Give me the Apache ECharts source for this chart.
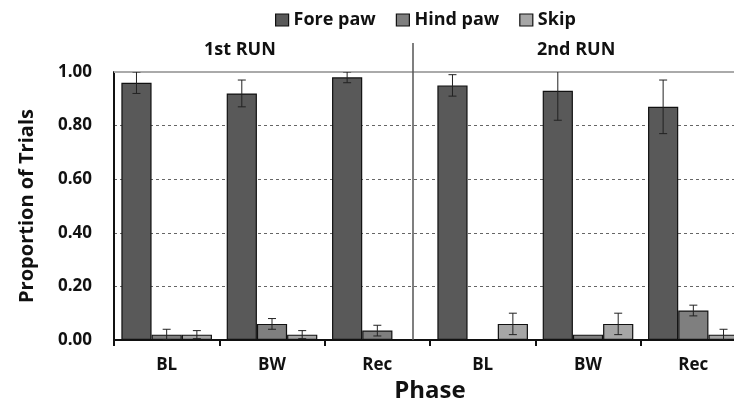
<!DOCTYPE html>
<html>
<head>
<meta charset="utf-8">
<script src="https://cdn.jsdelivr.net/npm/echarts@6/dist/echarts.min.js"></script>
<style>html,body{margin:0;padding:0;background:#fff}#c{width:734px;height:404px}</style>
</head>
<body>
<div id="c"></div>
<script>
const categories = ['BL', 'BW', 'Rec', 'BL', 'BW', 'Rec'];
const seriesNames = ['Fore paw', 'Hind paw', 'Skip'];
const forePaw = [0.96, 0.92, 0.98, 0.95, 0.93, 0.87];
const forePawErr = [0.04, 0.05, 0.02, 0.04, 0.11, 0.10];
const hindPaw = [0.02, 0.06, 0.035, 0, 0.02, 0.11];
const hindPawErr = [0.02, 0.02, 0.02, 0, 0, 0.02];
const skip = [0.02, 0.02, 0, 0.06, 0.06, 0.02];
const skipErr = [0.015, 0.015, 0, 0.04, 0.04, 0.02];
const yTicks = [0, 0.2, 0.4, 0.6, 0.8, 1.0];
const runLabels = ['1st RUN', '2nd RUN'];

const colors = ['#595959', '#7f7f7f', '#a6a6a6'];
const FONT = '"Open Sans", "DejaVu Sans", sans-serif';
const chart = echarts.init(document.getElementById('c'), null, {renderer: 'canvas'});

const values = [forePaw, hindPaw, skip];
const errs = [forePawErr, hindPawErr, skipErr];
const nS = 3;
const catGapRatio = 0.14;

function errorSeries(si) {
  return {
    type: 'custom',
    name: seriesNames[si] + ' err',
    clip: true,
    z: 10,
    silent: true,
    data: values[si].map((v, i) => [i, v, errs[si][i]]),
    renderItem: function (params, api) {
      const idx = api.value(0), v = api.value(1), e = api.value(2);
      if (!e) return;
      const band = api.size([1, 0])[0];
      const inner = band * (1 - catGapRatio);
      const bw = inner / nS;
      const c = api.coord([idx, v]);
      const x = c[0] - inner / 2 + bw * (si + 0.5);
      const yT = api.coord([idx, v + e])[1];
      const yB = api.coord([idx, v - e])[1];
      const cap = 4;
      const st = {stroke: '#222', lineWidth: 1};
      return {
        type: 'group',
        children: [
          {type: 'line', shape: {x1: x, y1: yT, x2: x, y2: yB}, style: st},
          {type: 'line', shape: {x1: x - cap, y1: yT, x2: x + cap, y2: yT}, style: st},
          {type: 'line', shape: {x1: x - cap, y1: yB, x2: x + cap, y2: yB}, style: st}
        ]
      };
    }
  };
}

const barSeries = seriesNames.map((n, si) => ({
  type: 'bar',
  name: n,
  data: values[si],
  barGap: '0%',
  barCategoryGap: (catGapRatio * 100) + '%',
  itemStyle: {color: colors[si], borderColor: '#111', borderWidth: 1.2},
  emphasis: {disabled: true},
  markLine: si === 0 ? {
    silent: true, symbol: 'none', label: {show: false},
    lineStyle: {color: '#aaaaaa', type: 'solid', width: 2},
    data: [{yAxis: yTicks[yTicks.length - 1]}]
  } : undefined
}));

const option = {
  animation: false,
  backgroundColor: '#fff',
  legend: {
    data: seriesNames,
    left: 270, top: 6,
    itemWidth: 13, itemHeight: 12, itemGap: 20,
    icon: 'rect',
    itemStyle: {borderColor: '#111', borderWidth: 1.2},
    textStyle: {fontFamily: FONT, fontWeight: 'bold', fontSize: 18, color: '#111'}
  },
  grid: {left: 114, top: 72, bottom: 64, width: 632, containLabel: false, outerBoundsMode: 'none'},
  xAxis: {
    type: 'category',
    data: categories,
    name: 'Phase',
    nameLocation: 'middle',
    nameGap: 36,
    nameTextStyle: {fontFamily: FONT, fontWeight: 'bold', fontSize: 24, color: '#111'},
    axisLine: {lineStyle: {color: '#111', width: 2}},
    axisTick: {show: true, length: 6, lineStyle: {color: '#111', width: 2}},
    axisLabel: {fontFamily: FONT, fontWeight: 'bold', fontSize: 17, color: '#111', margin: 17}
  },
  yAxis: {
    type: 'value',
    min: 0, max: 1, interval: 0.2,
    name: 'Proportion of Trials',
    nameLocation: 'middle',
    nameRotate: 90,
    nameGap: 77,
    nameTextStyle: {fontFamily: FONT, fontWeight: 'bold', fontSize: 20, color: '#111'},
    axisLine: {show: true, lineStyle: {color: '#111', width: 2}},
    axisTick: {show: false},
    axisLabel: {
      fontFamily: FONT, fontWeight: 'bold', fontSize: 17, color: '#111', margin: 22,
      formatter: v => v.toFixed(2)
    },
    splitLine: {show: true, lineStyle: {color: '#666', type: [3, 3], width: 1}}
  },
  graphic: [
    {type: 'text', left: 204, top: 41, style: {text: runLabels[0], font: 'bold 18px ' + FONT, fill: '#111'}},
    {type: 'text', left: 537, top: 41, style: {text: runLabels[1], font: 'bold 18px ' + FONT, fill: '#111'}},
    {type: 'line', shape: {x1: 413, y1: 43, x2: 413, y2: 340}, style: {stroke: '#555', lineWidth: 1.5}, z: 20}
  ],
  series: barSeries.concat([0, 1, 2].map(errorSeries))
};
chart.setOption(option);
</script>
</body>
</html>
